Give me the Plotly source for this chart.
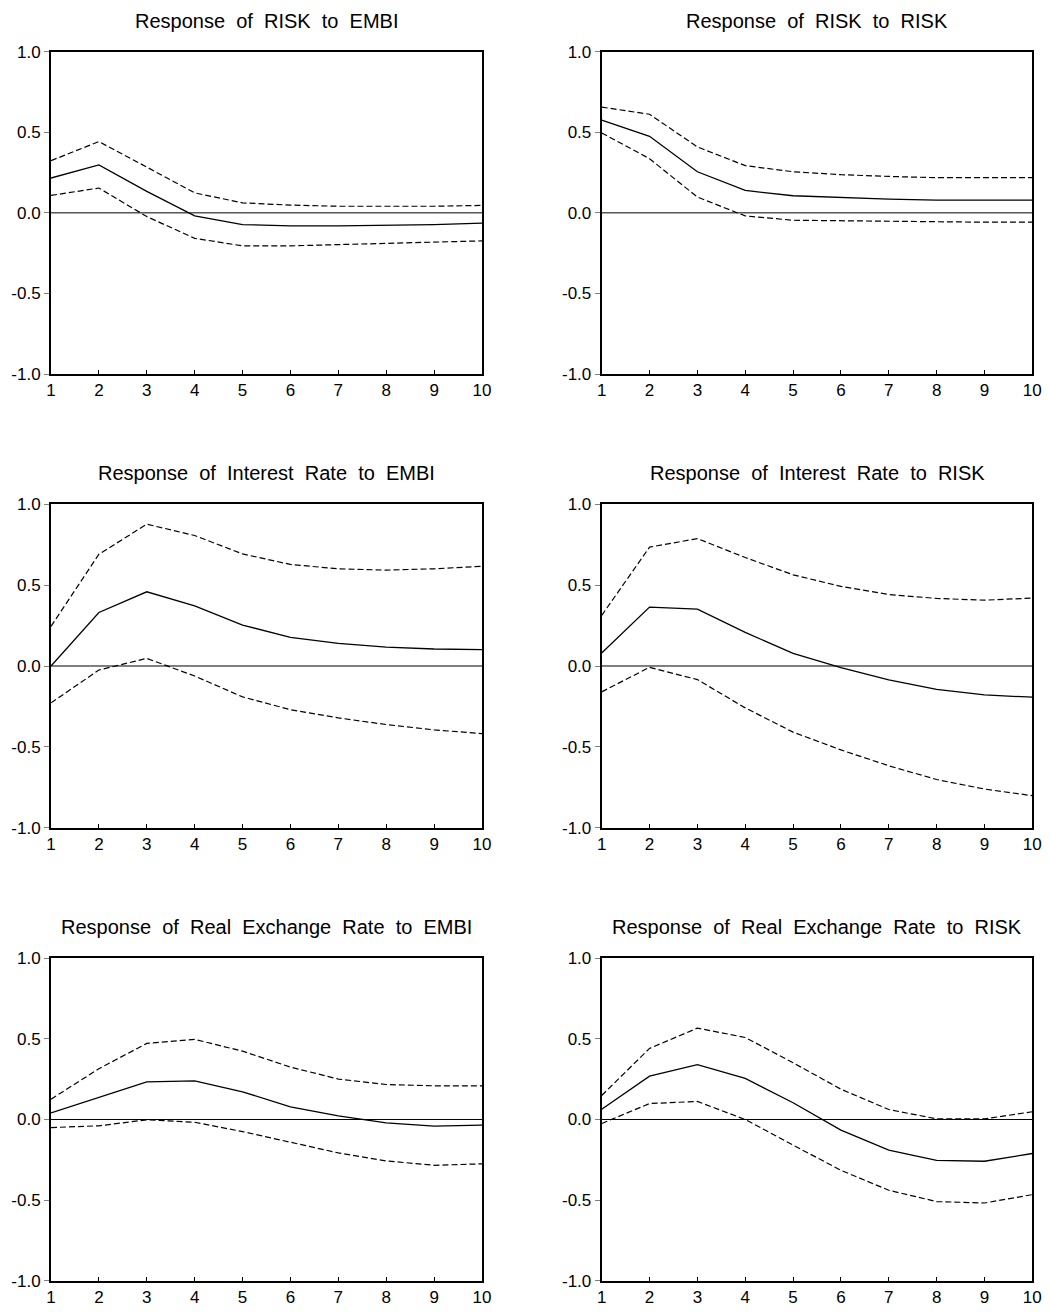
import plotly.graph_objects as go

periods = [1, 2, 3, 4, 5, 6, 7, 8, 9, 10]

titles = [
    "Response of RISK to EMBI",
    "Response of RISK to RISK",
    "Response of Interest Rate to EMBI",
    "Response of Interest Rate to RISK",
    "Response of Real Exchange Rate to EMBI",
    "Response of Real Exchange Rate to RISK",
]

# Panel 1: RISK to EMBI
risk_embi = [0.216, 0.297, 0.133, -0.019, -0.073, -0.081, -0.081, -0.079, -0.073, -0.064]
risk_embi_up = [0.324, 0.442, 0.284, 0.124, 0.062, 0.048, 0.041, 0.041, 0.041, 0.046]
risk_embi_lo = [0.108, 0.154, -0.023, -0.158, -0.205, -0.205, -0.197, -0.189, -0.178, -0.174]

# Panel 2: RISK to RISK
risk_risk = [0.575, 0.475, 0.255, 0.139, 0.106, 0.095, 0.085, 0.079, 0.079, 0.079]
risk_risk_up = [0.656, 0.612, 0.409, 0.293, 0.255, 0.237, 0.226, 0.218, 0.218, 0.218]
risk_risk_lo = [0.496, 0.336, 0.098, -0.019, -0.046, -0.050, -0.054, -0.058, -0.058, -0.058]

# Panel 3: Interest Rate to EMBI
ir_embi = [0.0, 0.331, 0.459, 0.372, 0.253, 0.177, 0.140, 0.117, 0.105, 0.101]
ir_embi_up = [0.245, 0.691, 0.877, 0.807, 0.693, 0.628, 0.601, 0.593, 0.601, 0.617]
ir_embi_lo = [-0.228, -0.025, 0.047, -0.062, -0.191, -0.270, -0.321, -0.362, -0.395, -0.418]

# Panel 4: Interest Rate to RISK
ir_risk = [0.080, 0.364, 0.352, 0.208, 0.078, -0.010, -0.086, -0.144, -0.179, -0.193]
ir_risk_up = [0.313, 0.735, 0.788, 0.671, 0.564, 0.492, 0.442, 0.418, 0.407, 0.420]
ir_risk_lo = [-0.160, -0.008, -0.084, -0.259, -0.409, -0.519, -0.617, -0.702, -0.761, -0.802]

# Panel 5: Real Exchange Rate to EMBI
rer_embi = [0.041, 0.139, 0.234, 0.240, 0.172, 0.079, 0.023, -0.021, -0.041, -0.035]
rer_embi_up = [0.126, 0.315, 0.472, 0.497, 0.424, 0.325, 0.251, 0.217, 0.209, 0.209]
rer_embi_lo = [-0.050, -0.039, -0.002, -0.017, -0.075, -0.143, -0.207, -0.257, -0.284, -0.275]

# Panel 6: Real Exchange Rate to RISK
rer_risk = [0.064, 0.269, 0.340, 0.255, 0.104, -0.066, -0.190, -0.253, -0.259, -0.211]
rer_risk_up = [0.149, 0.441, 0.567, 0.509, 0.352, 0.188, 0.062, 0.004, 0.004, 0.048]
rer_risk_lo = [-0.025, 0.099, 0.112, 0.0, -0.159, -0.315, -0.439, -0.509, -0.518, -0.466]

y_tickvals = [-1.0, -0.5, 0.0, 0.5, 1.0]
y_ticktext = ["-1.0", "-0.5", "0.0", "0.5", "1.0"]
x_ticktext = [str(p) for p in periods]

panels = [
    (risk_embi, risk_embi_up, risk_embi_lo),
    (risk_risk, risk_risk_up, risk_risk_lo),
    (ir_embi, ir_embi_up, ir_embi_lo),
    (ir_risk, ir_risk_up, ir_risk_lo),
    (rer_embi, rer_embi_up, rer_embi_lo),
    (rer_risk, rer_risk_up, rer_risk_lo),
]

# The page body has an 8px margin; the figure starts at (8, 8) in the window
OFF = 8
W, H = 1050 - OFF, 1312 - OFF
# target positions in window pixels
col_px = [(51, 482), (601.7, 1032.3)]
row_px = [(51.7, 374), (504.3, 827.7), (958.3, 1280.7)]
title_y_px = [20.5, 472.5, 926.5]

FONT = "Liberation Sans, Arial, sans-serif"

fig = go.Figure()
layout = dict(
    width=W, height=H,
    margin=dict(l=0, r=0, t=0, b=0, pad=0, autoexpand=False),
    paper_bgcolor="white", plot_bgcolor="white",
    showlegend=False,
    font=dict(family=FONT, color="black"),
)
annotations = []

for i, (mid, up, lo) in enumerate(panels):
    r, c = divmod(i, 2)
    idx = "" if i == 0 else str(i + 1)
    xa, ya = "x" + idx, "y" + idx
    x0, x1 = col_px[c][0] - OFF, col_px[c][1] - OFF
    yt, yb = row_px[r][0] - OFF, row_px[r][1] - OFF
    layout["xaxis" + idx] = dict(
        domain=[x0 / W, x1 / W], anchor=ya, range=[1, 10],
        tickvals=periods, ticktext=x_ticktext,
        ticks="inside", ticklen=4, tickwidth=1, tickcolor="black",
        showline=True, linecolor="black", linewidth=2, mirror=True,
        showgrid=False, zeroline=False, automargin=False,
        tickfont=dict(family=FONT, size=17, color="black"),
    )
    layout["yaxis" + idx] = dict(
        domain=[1 - yb / H, 1 - yt / H], anchor=xa, range=[-1, 1],
        tickvals=y_tickvals, ticktext=y_ticktext,
        ticks="outside", ticklen=5, tickwidth=1, tickcolor="#808080",
        showline=True, linecolor="black", linewidth=2, mirror=True,
        showgrid=False, zeroline=False, automargin=False,
        tickfont=dict(family=FONT, size=17, color="black"),
    )
    # zero reference line
    fig.add_trace(go.Scatter(x=[periods[0], periods[-1]], y=[0, 0], mode="lines",
                             line=dict(color="black", width=1), xaxis=xa, yaxis=ya,
                             hoverinfo="skip"))
    fig.add_trace(go.Scatter(x=periods, y=up, mode="lines",
                             line=dict(color="black", width=1.2, dash="6px,3px"),
                             xaxis=xa, yaxis=ya))
    fig.add_trace(go.Scatter(x=periods, y=lo, mode="lines",
                             line=dict(color="black", width=1.2, dash="6px,3px"),
                             xaxis=xa, yaxis=ya))
    fig.add_trace(go.Scatter(x=periods, y=mid, mode="lines",
                             line=dict(color="black", width=1.3),
                             xaxis=xa, yaxis=ya))
    annotations.append(dict(
        text=titles[i].replace(" ", "  "), x=(x0 + x1) / 2 / W,
        y=1 - (title_y_px[r] - OFF) / H,
        xref="paper", yref="paper", xanchor="center", yanchor="middle",
        showarrow=False, borderpad=0,
        font=dict(family=FONT, size=20, color="black"),
    ))

layout["annotations"] = annotations
fig.update_layout(**layout)
fig.write_html("out.html")
